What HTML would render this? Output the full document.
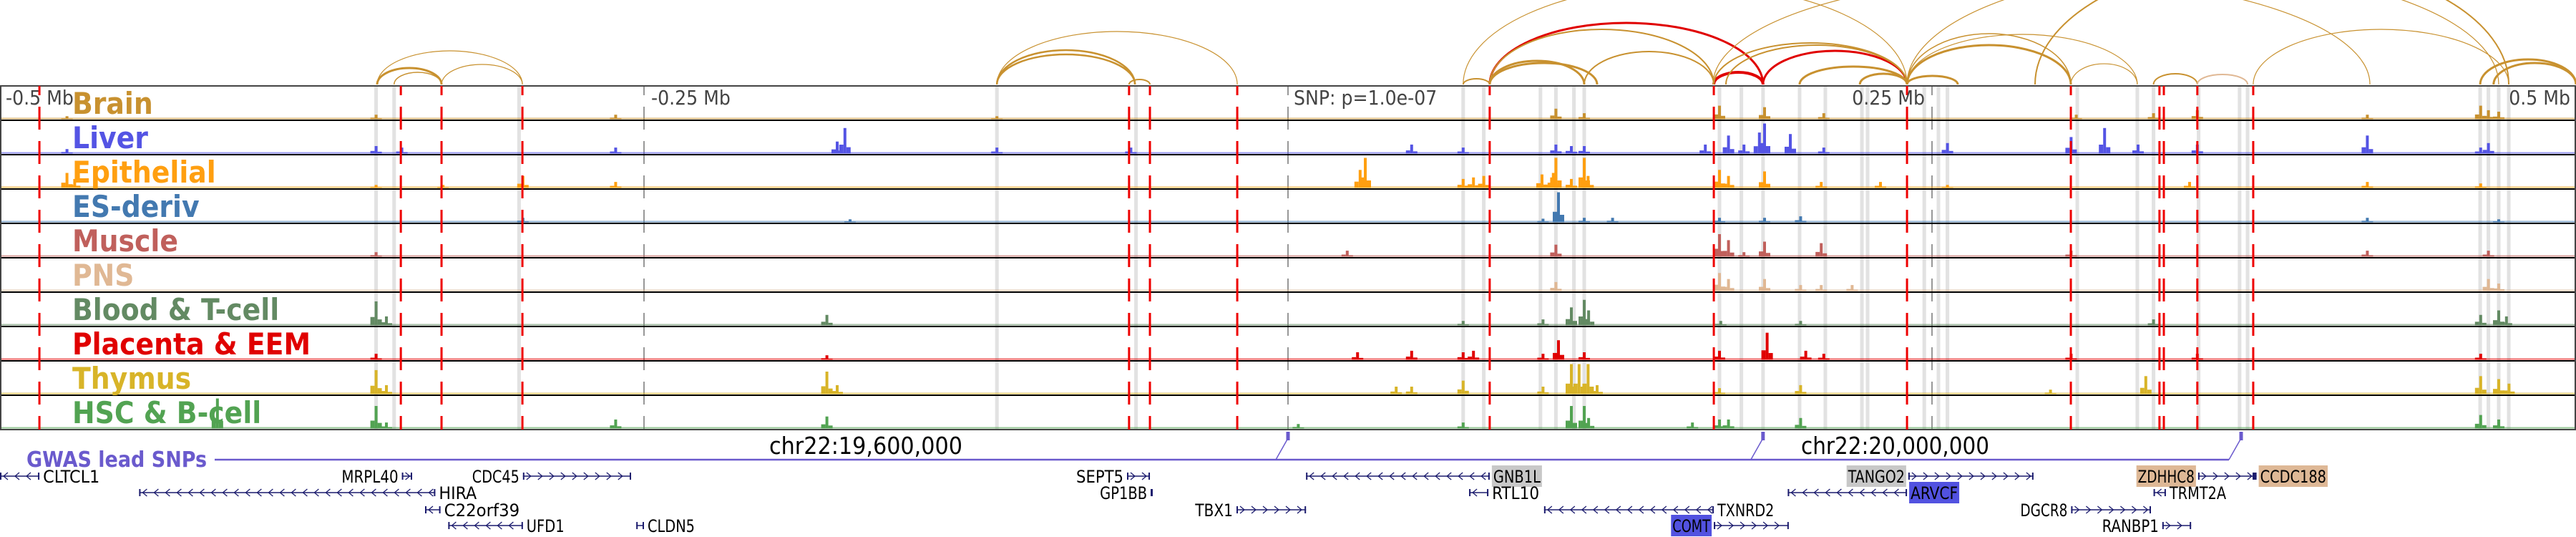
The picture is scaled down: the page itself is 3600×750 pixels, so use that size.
<!DOCTYPE html>
<html><head><meta charset="utf-8"><style>
html,body{margin:0;padding:0;background:#fff;}
svg{display:block;}
.lbl{font-family:"DejaVu Sans Condensed","DejaVu Sans","Liberation Sans",sans-serif;font-weight:bold;font-size:42px;}
.ax{font-family:"DejaVu Sans Condensed","DejaVu Sans","Liberation Sans",sans-serif;font-size:28px;fill:#444;}
.gn{font-family:"DejaVu Sans Condensed","DejaVu Sans","Liberation Sans",sans-serif;font-size:24px;fill:#000;}
.chr{font-family:"DejaVu Sans Condensed","DejaVu Sans","Liberation Sans",sans-serif;font-size:33px;fill:#000;}
</style></head><body>
<svg id="chart" width="3600" height="750" viewBox="0 0 3600 750" xmlns="http://www.w3.org/2000/svg">
<g id="arcs"></g>
<g id="bands"></g>
<g id="tracks"></g>
<g id="reds"></g>
<g id="axis"></g>
<g id="gwas"></g>
<g id="genes"></g>
</svg>
<script>
// ---- data (positions in kb relative to lead SNP) ----
const trackNames = ["Brain","Liver","Epithelial","ES-deriv","Muscle","PNS","Blood & T-cell","Placenta & EEM","Thymus","HSC & B-cell"];
const trackColors = ["#c8912f","#5454e4","#ff9f10","#4379b0","#c0605c","#e0b894","#638a63","#e00000","#d8b428","#52a352"];
const brainPeaks = [[-474,.1],[-354,.15],[-261,.15],[-113,.1],[104,.35],[115,.2],[167.5,.45],[185,.4],[208,.2],[306,.15],[336,.2],[353,.3],[419,.15],[463,.45],[466,.3],[470,.25]];
const liverPeaks = [[-474,.15],[-354,.25],[-344,.2],[-261,.2],[-172,.85],[-175,.4],[-113,.2],[-61,.2],[48,.3],[68,.2],[104,.3],[110,.25],[115,.25],[162,.3],[171,.6],[177,.3],[185,1.0],[183,.7],[195,.65],[208,.2],[256,.35],[304,.55],[317,.85],[330,.3],[353,.3],[419,.6],[466,.35],[463,.2]];
const epiPeaks = [[-474,.5],[-471,.3],[-354,.1],[-328,.1],[-297,.4],[-261,.2],[30,1.0],[28,.6],[68,.3],[72,.35],[76,.4],[98.6,.45],[103,.5],[104,1.0],[110,.3],[115,1.0],[116.5,.4],[167.5,.6],[171,.4],[185,.55],[207,.2],[230,.2],[256,.1],[350,.2],[419,.2],[463,.15]];
const esPeaks = [[-297,.15],[-170,.1],[105,1.0],[99,.12],[115,.15],[126,.15],[167.5,.15],[185,.15],[199,.2],[419,.15],[470,.1]];
const musclePeaks = [[-354,.15],[23,.2],[104,.4],[167.5,.75],[171,.55],[177,.15],[185,.5],[207,.45],[304,.2],[419,.2],[466,.2]];
const pnsPeaks = [[104,.3],[167.5,.6],[171,.4],[185,.4],[199,.2],[207,.2],[219,.2],[466,.4],[470,.25]];
const bloodPeaks = [[-354,.8],[-350,.3],[-179,.35],[68,.15],[99,.2],[110,.6],[115,.85],[116.7,.5],[168,.15],[199,.15],[336,.2],[463,.35],[470,.5],[473,.3]];
const placentaPeaks = [[-354,.2],[-179,.15],[27,.25],[48,.3],[68,.25],[72,.3],[99,.2],[105,.65],[115,.25],[167.5,.3],[186,.9],[201,.3],[208,.2],[304,.2],[353,.2],[463,.2]];
const thymusPeaks = [[-354,.8],[-350,.3],[-179,.75],[-175,.3],[42,.25],[48,.25],[68,.45],[99,.25],[110,1.0],[113,1.0],[116.5,1.0],[120,.3],[167.5,.2],[199,.3],[296,.15],[333,.6],[463,.6],[470,.5],[474,.35]];
const hscPeaks = [[-415.6,1.0],[-354,.75],[-350,.2],[-261,.3],[-179,.4],[4,.15],[68,.2],[110,.75],[115,.75],[116.7,.35],[157,.2],[167.5,.3],[171,.3],[199,.35],[463,.45],[470,.3]];
const redSnps = [-484.7,-344.4,-328.6,-297.2,-61.7,-53.6,-19.7,78.3,165.3,240.3,303.9,338.3,340,353,374.7];
const grayBands = [-354,-347,-298.5,-113,-59,68,76,98,104,111,115,167.5,176,184.4,198.6,208.6,222.8,225,247,252.5,256,306.4,329.7,336,353.5,369.4,372.5,462.8,466,470,473.9];
const arcStart = [-353.6,-347,-353.6,-328.6,-113,-113,-113,-61.7,68,78.3,78.3,115,78.3,78.3,165.3,184.4,198.6,170,165.3,222,240.3,240.3,240.3,240.3,303.9,336,353,374.7,462.8,468,68,165,240.3,290];
const arcEnd   = [-328.6,-328.6,-297.2,-297.2,-59.4,-59.4,-19.7,-53.6,78.3,184.4,165.3,165.3,115,120,184.4,240.3,240.3,240.3,240.3,240.3,260,303.9,303.9,329.7,329.7,353,372.5,473.9,500,500,240.3,420,470,473.9];
const arcHeight= [23,17,47,28,48,42,74,7,8,86,77,46,33,30,17,47,25,55,58,15,12,71,55,70,29,15,14,77,35,30,140,150,160,175];
const arcWidth = [3,1.5,1.2,1.2,2.5,2.5,1.2,2,2,3,2,2,3,3,4,3,3,2,2,3,3,1.5,3,1.2,1.2,2,2,1.2,3,3,1.2,1.2,1.2,2];
const arcType  = ["b","b","b","b","b","b","b","b","b","r","b","b","b","b","r","r","b","b","b","b","b","b","b","b","b","b","p","b","b","b","b","b","b","b"];
const axisTicks = [-250,0,250];
const gwasSnps = [0,184.4,370];
const geneNames = ["CLTCL1","MRPL40","CDC45","SEPT5","GNB1L","TANGO2","ZDHHC8","CCDC188","HIRA","GP1BB","RTL10","ARVCF","TRMT2A","C22orf39","TBX1","TXNRD2","DGCR8","UFD1","CLDN5","COMT","RANBP1"];
const geneStart = [-500,-344,-297,-62.5,7,240.8,353.3,375,-446,-53.3,70.3,194,336,-335,-20,99.4,304,-326,-253,165.3,339.4];
const geneEnd   = [-484.7,-340,-255,-53.6,78.3,289.4,375,376,-331,-52.5,77.8,240.3,340.8,-329,7,165.3,335,-297,-250,194.4,350.6];
const geneRow   = [0,0,0,0,0,0,0,0,1,1,1,1,1,2,2,2,2,3,3,3,3];
const geneStrand= [-1,1,1,1,-1,1,1,-1,-1,0,-1,-1,-1,-1,1,-1,1,-1,-1,1,1];
const geneSide  = ["R","L","L","L","R","L","L","R","R","L","R","R","R","R","L","R","L","R","R","L","L"];
const geneStyle = ["","","","","gray","gray","tan","tan","","","","blue","","","","","","","","blue",""];
</script>
<script>
const NS="http://www.w3.org/2000/svg";
const X = kb => 1800 + kb*3.6;
const TOP=120, TH=48;
function mk(tag, parent, attrs){const e=document.createElementNS(NS,tag);for(const k in attrs)e.setAttribute(k,attrs[k]);parent.appendChild(e);return e;}
const gArcs=document.getElementById('arcs'),gBands=document.getElementById('bands'),gTracks=document.getElementById('tracks'),gReds=document.getElementById('reds'),gAxis=document.getElementById('axis'),gGwas=document.getElementById('gwas'),gGenes=document.getElementById('genes');
const arcColor={b:"#c8912f",r:"#e00000",p:"#e0b894"};
for(let i=0;i<arcStart.length;i++){
  const x1=X(arcStart[i]),x2=X(arcEnd[i]),rx=(x2-x1)/2,h=arcHeight[i];
  const p=mk('path',gArcs,{d:`M${x1} 118 A${rx} ${h} 0 0 1 ${x2} 118`,fill:'none',stroke:arcColor[arcType[i]],'stroke-width':arcWidth[i]});
  
  
}
for(const b of grayBands){
  const r=mk('rect',gBands,{x:X(b)-2.5,y:TOP,width:5,height:TH*10,fill:'#e2e2e2'});
  
  
}
for(const t of axisTicks){
  const l=mk('line',gBands,{x1:X(t),x2:X(t),y1:TOP,y2:TOP+TH*10,stroke:'#777','stroke-width':1.5,'stroke-dasharray':'32 16','stroke-dashoffset':19});
  
  
}
const allPeaks=[brainPeaks,liverPeaks,epiPeaks,esPeaks,musclePeaks,pnsPeaks,bloodPeaks,placentaPeaks,thymusPeaks,hscPeaks];
for(let t=0;t<10;t++){
  const base=TOP+TH*(t+1)-1.5, col=trackColors[t];
  const g=mk('g',gTracks,{});
  
  
  mk('rect',g,{x:0,y:base-2,width:3600,height:2,fill:col,opacity:0.6});
  for(const pk of allPeaks[t]){
    const x=X(pk[0]),h=pk[1]*42;
    const b=mk('rect',g,{x:x-2,y:base-h,width:4,height:h,fill:col});
    
    
    mk('rect',g,{x:x-8,y:base-h*0.35,width:6,height:h*0.35,fill:col});
    mk('rect',g,{x:x+2,y:base-h*0.25,width:6,height:h*0.25,fill:col});
  }
  const sep=mk('line',gTracks,{x1:0,x2:3600,y1:TOP+TH*(t+1),y2:TOP+TH*(t+1),stroke:t==9?'#444':'#000','stroke-width':2});
  
  
  const tx=mk('text',gTracks,{x:101,y:TOP+TH*t+39,class:'lbl',fill:col});
  tx.textContent=trackNames[t];
  
  
}
const fr=mk('rect',gTracks,{x:1,y:TOP,width:3598,height:TH*10,fill:'none',stroke:'#444','stroke-width':2});


for(const s of redSnps){
  const l=mk('line',gReds,{x1:X(s),x2:X(s),y1:TOP,y2:TOP+TH*10,stroke:'#ee0000','stroke-width':3,'stroke-dasharray':'32 16','stroke-dashoffset':19});
  
  
}
const axLabels=[["-0.5 Mb",8,"start"],["-0.25 Mb",910,"start"],["SNP: p=1.0e-07",1808,"start"],["0.25 Mb",2690,"end"],["0.5 Mb",3592,"end"]];
for(const a of axLabels){
  const t=mk('text',gAxis,{x:a[1],y:146,class:'ax','text-anchor':a[2]});
  t.textContent=a[0];
  
  
}
const gl=mk('text',gGwas,{x:37,y:652,class:'lbl',fill:'#6a5acd',style:'font-size:30px'});
gl.textContent='GWAS lead SNPs';


const lastX=X(gwasSnps[gwasSnps.length-1]);
mk('line',gGwas,{x1:300,x2:lastX-17,y1:642,y2:642,stroke:'#6a5acd','stroke-width':2.5});
for(const s of gwasSnps){
  const x=X(s);
  mk('line',gGwas,{x1:x-17,y1:642,x2:x,y2:612,stroke:'#6a5acd','stroke-width':1.5});
  const m=mk('rect',gGwas,{x:x-2.5,y:603,width:5,height:12,fill:'#6a5acd'});
  
  
}
const c1=mk('text',gGwas,{x:1075,y:634,class:'chr',textLength:270,lengthAdjust:'spacingAndGlyphs'});c1.textContent='chr22:19,600,000';


const c2=mk('text',gGwas,{x:2517,y:634,class:'chr',textLength:263,lengthAdjust:'spacingAndGlyphs'});c2.textContent='chr22:20,000,000';


const rowY=[665,688,712,734];
const styleBg={gray:'#c8c8c8',tan:'#deb896',blue:'#5252e0'};
for(let i=0;i<geneNames.length;i++){
  const g=mk('g',gGenes,{});
  
  
  const y=rowY[geneRow[i]],x1=X(geneStart[i]),x2=X(geneEnd[i]);
  mk('line',g,{x1:x1,x2:x2,y1:y,y2:y,stroke:'#1c1c6e','stroke-width':1.5});
  mk('rect',g,{x:x1,y:y-5,width:2,height:10,fill:'#1c1c6e'});
  mk('rect',g,{x:x2-2,y:y-5,width:2,height:10,fill:'#1c1c6e'});
  if(geneStrand[i]!==0){
    for(let x=x1+8;x<x2-4;x+=16){
      const d=geneStrand[i]>0?`M${x-3} ${y-5} L${x+3} ${y} L${x-3} ${y+5}`:`M${x+3} ${y-5} L${x-3} ${y} L${x+3} ${y+5}`;
      mk('path',g,{d:d,fill:'none',stroke:'#1c1c6e','stroke-width':1.3});
    }
  } else { mk('rect',g,{x:x1,y:y-5,width:x2-x1,height:10,fill:'#1c1c6e'}); }
  const w=geneNames[i].length*13.2+4;
  const lx=geneSide[i]==='R'?x2+3:x1-3-w;
  if(geneStyle[i]) mk('rect',g,{x:lx,y:y-15,width:w,height:30,fill:styleBg[geneStyle[i]]});
  const t=mk('text',g,{x:lx+2,y:y+9,class:'gn',fill:(geneStyle[i]==='tan'||geneStyle[i]==='blue')?'#fff':'#000',textLength:w-4,lengthAdjust:'spacingAndGlyphs'});
  t.textContent=geneNames[i];
  
  
}
</script>
</body></html>
